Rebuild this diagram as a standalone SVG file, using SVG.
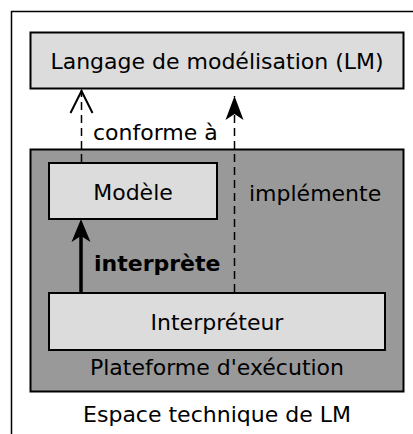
<svg xmlns="http://www.w3.org/2000/svg" width="413" height="434" viewBox="0 0 413 434">
<style>
text{font-family:"DejaVu Sans",sans-serif;font-size:22px;fill:#000}
.light{fill:#dcdcdc;stroke:#000;stroke-width:2}
.dash{stroke:#000;stroke-width:1.5;stroke-dasharray:8,5;fill:none}
</style>
<defs>
<marker id="open" markerUnits="userSpaceOnUse" markerWidth="30" markerHeight="30" refX="0" refY="0" viewBox="-15 -2 30 30" orient="0" overflow="visible">
<path d="M-11,23 L0,1 L11,23" fill="none" stroke="#000" stroke-width="2"/>
</marker>
<marker id="fill" markerUnits="userSpaceOnUse" markerWidth="30" markerHeight="30" refX="0" refY="0" viewBox="-15 -2 30 30" orient="0" overflow="visible">
<path d="M0,0 L9,24 L0,18 L-9,24 Z" fill="#000"/>
</marker>
</defs>
<rect x="11.5" y="11.5" width="420" height="440" fill="#fff" stroke="#000" stroke-width="1.5"/>
<g id="lm">
<rect class="light" x="30.5" y="32.5" width="373" height="56" stroke-width="1.5"/>
<text x="217" y="69" text-anchor="middle">Langage de modélisation (LM)</text>
</g>
<g id="plateforme">
<rect x="30.5" y="149.5" width="373" height="242" fill="#999" stroke="#000" stroke-width="2"/>
<text x="217" y="375" text-anchor="middle">Plateforme d'exécution</text>
</g>
<g id="modele">
<rect class="light" x="49" y="163" width="168" height="56"/>
<text x="133" y="200" text-anchor="middle">Modèle</text>
</g>
<g id="interpreteur">
<rect class="light" x="49" y="293" width="336" height="57"/>
<text x="217" y="330" text-anchor="middle">Interpréteur</text>
</g>
<text x="217" y="422" text-anchor="middle">Espace technique de LM</text>
<g id="connectors">
<path class="dash" d="M81.5,162 V90" marker-end="url(#open)"/>
<path class="dash" d="M234.5,292 V96" marker-end="url(#fill)"/>
<path d="M81,292 V236" stroke="#000" stroke-width="3.5" fill="none"/>
<path d="M81,219 L90.5,242 L81,236 L71.5,242 Z" fill="#000"/>
<text x="93" y="140">conforme à</text>
<text x="249" y="201">implémente</text>
<text x="94" y="271" font-weight="bold">interprète</text>
</g>
</svg>
